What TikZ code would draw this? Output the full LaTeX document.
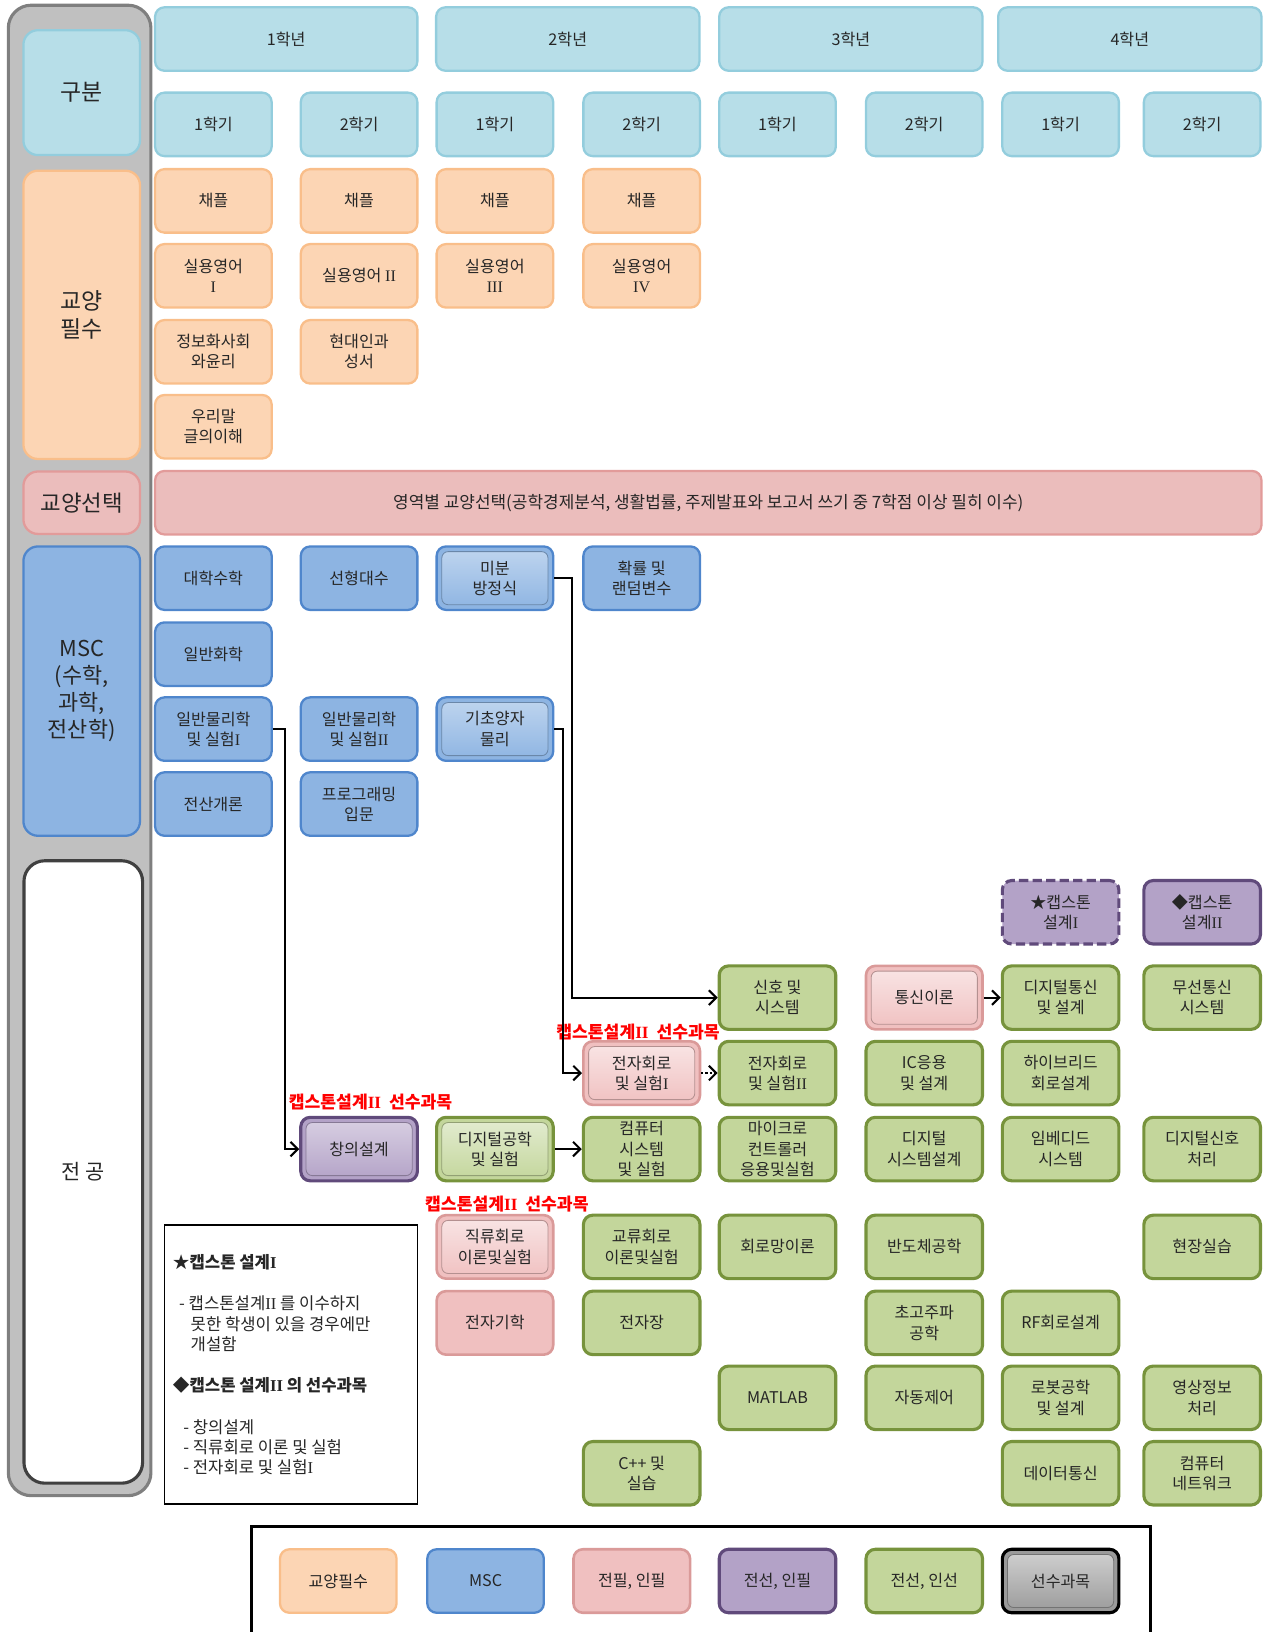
\documentclass[tikz,border=0pt]{standalone}
\usepackage{fontspec}
\setmainfont{Noto Sans CJK KR}
\newfontfamily\romfont{Liberation Serif}
\newcommand{\rI}{{\romfont I}}
\newcommand{\rII}{{\romfont II}}
\newcommand{\rIII}{{\romfont III}}
\newcommand{\rIV}{{\romfont IV}}
\usetikzlibrary{arrows.meta,calc}
\definecolor{hdrF}{HTML}{B7DEE8}
\definecolor{hdrD}{HTML}{93CDDD}
\definecolor{pchF}{HTML}{FCD5B4}
\definecolor{pchD}{HTML}{F9BE8A}
\definecolor{selF}{HTML}{EBBDBC}
\definecolor{selD}{HTML}{E29B9A}
\definecolor{mscF}{HTML}{8DB4E2}
\definecolor{mscD}{HTML}{4F86CC}
\definecolor{grnF}{HTML}{C3D69B}
\definecolor{grnD}{HTML}{77933C}
\definecolor{purF}{HTML}{B3A2C7}
\definecolor{purD}{HTML}{604A7B}
\definecolor{pnkF}{HTML}{F0C0C0}
\definecolor{pnkD}{HTML}{DA9A99}
\definecolor{gryF}{HTML}{9A9A9A}
\definecolor{panF}{HTML}{C0C0C0}
\definecolor{panD}{HTML}{7F7F7F}
\definecolor{txt}{HTML}{262626}
\definecolor{redlab}{HTML}{FF0000}
\begin{document}
\begin{tikzpicture}[x=1pt,y=-1pt,
 box/.style={rounded corners=9pt, minimum width=112pt, minimum height=61pt, align=center,
   font=\fontsize{15.5}{19.5}\selectfont, inner sep=1pt, line width=2.2pt, text=txt},
 hdr/.style={box, fill=hdrF, draw=hdrD},
 pch/.style={box, fill=pchF, draw=pchD},
 sel/.style={box, fill=selF, draw=selD},
 msc/.style={box, fill=mscF, draw=mscD},
 grn/.style={box, fill=grnF, draw=grnD, line width=3pt},
 pur/.style={box, fill=purF, draw=purD, line width=3pt},
 pnk/.style={box, fill=pnkF, draw=pnkD, line width=2.5pt},
 gry/.style={box, fill=gryF, draw=black, line width=3pt},
 bevel/.style 2 args={path picture={
   \shade[top color=#1, bottom color=#2, rounded corners=6pt, draw=#2!75!black, line width=0.8pt]
   ([xshift=5pt,yshift=-5pt]path picture bounding box.north west) rectangle
   ([xshift=-5pt,yshift=5pt]path picture bounding box.south east);}},
 cat/.style={rounded corners=14pt, align=center, text=txt, line width=2.2pt, inner sep=1pt},
 redl/.style={text=redlab, font=\bfseries\fontsize{16.5}{19}\selectfont, inner sep=0pt},
 note/.style={anchor=west, text=txt, font=\fontsize{16}{19}\selectfont, inner sep=0pt},
 arr/.style={line width=2pt, -{Straight Barb[length=7pt,width=14pt,line width=2pt]}}
]
\useasboundingbox (0,0) rectangle (1213,1568);

% left panel
\draw[fill=panF, draw=panD, line width=3pt, rounded corners=22pt] (8,5) rectangle (145,1437);
\node[cat, fill=hdrF, draw=hdrD, minimum width=112pt, minimum height=120pt, font=\fontsize{22}{27}\selectfont] (gubun) at (78.5,89) {구분};
\node[cat, fill=pchF, draw=pchD, minimum width=112pt, minimum height=277pt, font=\fontsize{22}{27}\selectfont] (gyopil) at (78.5,302.5) {교양\\필수};
\node[cat, fill=selF, draw=selD, minimum width=112pt, minimum height=60pt, font=\fontsize{21.5}{24}\selectfont] (gyosel) at (78.5,483) {교양선택};
\node[cat, fill=mscF, draw=mscD, minimum width=112pt, minimum height=278pt, font=\fontsize{21}{26}\selectfont] (mscc) at (78.5,664) {MSC\\(수학,\\과학,\\전산학)};
\node[cat, fill=white, draw=black!75, line width=3pt, minimum width=114pt, minimum height=598pt, rounded corners=20pt, font=\fontsize{20}{24}\selectfont] (jeongong) at (80,1126) {전 공};

% year headers
\node[hdr, minimum width=252pt] (y1) at (275,37.5) {1학년};
\node[hdr, minimum width=253pt] (y2) at (545.5,37.5) {2학년};
\node[hdr, minimum width=253pt] (y3) at (817.5,37.5) {3학년};
\node[hdr, minimum width=253pt] (y4) at (1085.5,37.5) {4학년};
% semesters
\node[hdr] (sem1) at (205,119.5) {1학기};
\node[hdr] (sem2) at (345,119.5) {2학기};
\node[hdr] (sem3) at (475.5,119.5) {1학기};
\node[hdr] (sem4) at (616.5,119.5) {2학기};
\node[hdr] (sem5) at (747,119.5) {1학기};
\node[hdr] (sem6) at (888,119.5) {2학기};
\node[hdr] (sem7) at (1019,119.5) {1학기};
\node[hdr] (sem8) at (1155,119.5) {2학기};

% 교양필수
\node[pch] (a11) at (205,193) {채플};
\node[pch] (a12) at (205,265) {실용영어\\\rI};
\node[pch] (a13) at (205,338) {정보화사회\\와윤리};
\node[pch] (a14) at (205,410) {우리말\\글의이해};
\node[pch] (a21) at (345,193) {채플};
\node[pch] (a22) at (345,265) {실용영어 \rII};
\node[pch] (a23) at (345,338) {현대인과\\성서};
\node[pch] (a31) at (475.5,193) {채플};
\node[pch] (a32) at (475.5,265) {실용영어\\\rIII};
\node[pch] (a41) at (616.5,193) {채플};
\node[pch] (a42) at (616.5,265) {실용영어\\\rIV};

% 교양선택 bar
\node[sel, minimum width=1063pt, font=\fontsize{16.3}{19}\selectfont] (selbar) at (680.5,483) {영역별 교양선택(공학경제분석, 생활법률, 주제발표와 보고서 쓰기 중 7학점 이상 필히 이수)};

% MSC
\node[msc] (m11) at (205,555.5) {대학수학};
\node[msc] (m12) at (205,628.5) {일반화학};
\node[msc] (m13) at (205,700.5) {일반물리학\\및 실험\rI};
\node[msc] (m14) at (205,772.5) {전산개론};
\node[msc] (m21) at (345,555.5) {선형대수};
\node[msc] (m23) at (345,700.5) {일반물리학\\및 실험\rII};
\node[msc] (m24) at (345,772.5) {프로그래밍\\입문};
\node[msc, bevel={mscF!55!white}{mscF}] (mibun) at (475.5,555.5) {미분\\방정식};
\node[msc, bevel={mscF!55!white}{mscF}] (yangja) at (475.5,700.5) {기초양자\\물리};
\node[msc] (m41) at (616.5,555.5) {확률 및\\랜덤변수};

% 전공
\node[pur, dashed, dash pattern=on 9pt off 4pt] (cap1) at (1019,876.5) {★캡스톤\\설계\rI};
\node[pur] (cap2) at (1155,876.5) {◆캡스톤\\설계\rII};

\node[grn] (sinho) at (747,958.5) {신호 및\\시스템};
\node[pnk, bevel={pnkF!40!white}{pnkF}] (tongsin) at (888,958.5) {통신이론};
\node[grn] (digtong) at (1019,958.5) {디지털통신\\및 설계};
\node[grn] (museon) at (1155,958.5) {무선통신\\시스템};

\node[pnk, bevel={pnkF!40!white}{pnkF}] (jeonja1) at (616.5,1031) {전자회로\\및 실험\rI};
\node[grn] (jeonja2) at (747,1031) {전자회로\\및 실험\rII};
\node[grn] (ic) at (888,1031) {IC응용\\및 설계};
\node[grn] (hybrid) at (1019,1031) {하이브리드\\회로설계};

\node[pur, bevel={purF!50!white}{purF}] (changui) at (345,1104) {창의설계};
\node[grn, bevel={grnF!45!white}{grnF}] (digeng) at (475.5,1104) {디지털공학\\및 실험};
\node[grn] (compsys) at (616.5,1104) {컴퓨터\\시스템\\및 실험};
\node[grn] (micro) at (747,1104) {마이크로\\컨트롤러\\응용및실험};
\node[grn] (digsys) at (888,1104) {디지털\\시스템설계};
\node[grn] (embed) at (1019,1104) {임베디드\\시스템};
\node[grn] (dsp) at (1155,1104) {디지털신호\\처리};

\node[pnk, bevel={pnkF!40!white}{pnkF}] (dc) at (475.5,1198) {직류회로\\이론및실험};
\node[grn] (ac) at (616.5,1198) {교류회로\\이론및실험};
\node[grn] (circnet) at (747,1198) {회로망이론};
\node[grn] (semi) at (888,1198) {반도체공학};
\node[grn] (field) at (1155,1198) {현장실습};

\node[pnk] (emag) at (475.5,1271) {전자기학};
\node[grn] (efield) at (616.5,1271) {전자장};
\node[grn] (micro2) at (888,1271) {초고주파\\공학};
\node[grn] (rf) at (1019,1271) {RF회로설계};

\node[grn] (matlab) at (747,1343) {MATLAB};
\node[grn] (control) at (888,1343) {자동제어};
\node[grn] (robot) at (1019,1343) {로봇공학\\및 설계};
\node[grn] (image) at (1155,1343) {영상정보\\처리};

\node[grn] (cpp) at (616.5,1415.5) {C++ 및\\실습};
\node[grn] (datacom) at (1019,1415.5) {데이터통신};
\node[grn] (network) at (1155,1415.5) {컴퓨터\\네트워크};

% red labels
\node[redl] (lab1) at (613,992) {캡스톤설계\rII\ \ 선수과목};
\node[redl] (lab2) at (356,1059) {캡스톤설계\rII\ \ 선수과목};
\node[redl] (lab3) at (487,1157) {캡스톤설계\rII\ \ 선수과목};

% arrows
\draw[arr] (mibun.east) -- ++(17,0) |- (sinho.west);
\draw[arr] (yangja.east) -- ++(8,0) |- (jeonja1.west);
\draw[arr] (m13.east) -- ++(12,0) |- (changui.west);
\draw[arr] (digeng.east) -- (compsys.west);
\draw[arr] (tongsin.east) -- (digtong.west);
\draw[arr, dotted] (jeonja1.east) -- (jeonja2.west);

% note box
\node[draw=black, line width=1.5pt, fill=white, minimum width=243pt, minimum height=268pt, inner sep=0pt] (notebox) at (279.5,1311) {};
\node[note, font=\bfseries\fontsize{16}{19}\selectfont] (n1) at (166,1213) {★캡스톤 설계\rI};
\node[note] (n2) at (172,1252) {- 캡스톤설계\rII\ 를 이수하지};
\node[note] (n3) at (183,1272) {못한 학생이 있을 경우에만};
\node[note] (n4) at (183,1291) {개설함};
\node[note, font=\bfseries\fontsize{16}{19}\selectfont] (n5) at (166,1331) {◆캡스톤 설계\rII\ 의 선수과목};
\node[note] (n6) at (176,1371) {- 창의설계};
\node[note] (n7) at (176,1390) {- 직류회로 이론 및 실험};
\node[note] (n8) at (176,1410) {- 전자회로 및 실험\rI};

% legend
\draw[line width=3pt] (242,1580) -- (242,1467) -- (1105,1467) -- (1105,1580);
\node[pch] (l1) at (325,1519) {교양필수};
\node[msc] (l2) at (466.5,1519) {MSC};
\node[pnk] (l3) at (607,1519) {전필, 인필};
\node[pur] (l4) at (747,1519) {전선, 인필};
\node[grn] (l5) at (888,1519) {전선, 인선};
\node[gry, bevel={gryF!45!white}{gryF}] (l6) at (1019,1519) {선수과목};
\end{tikzpicture}
\end{document}
